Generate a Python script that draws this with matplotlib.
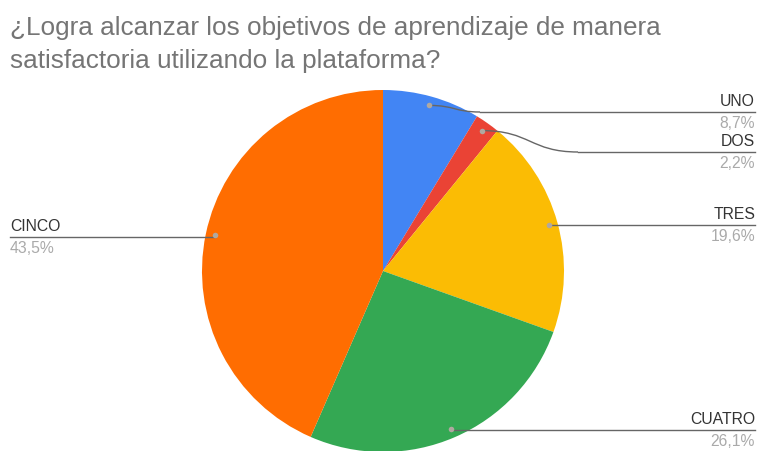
import matplotlib.pyplot as plt
from matplotlib.path import Path
from matplotlib.patches import PathPatch
import numpy as np

title_lines = ["¿Logra alcanzar los objetivos de aprendizaje de manera",
               "satisfactoria utilizando la plataforma?"]
labels = ["UNO", "DOS", "TRES", "CUATRO", "CINCO"]
shares = [8.7, 2.2, 19.6, 26.1, 43.5]
colors = ["#4285F4", "#EA4335", "#FBBC04", "#34A853", "#FF6D01"]

# label layout: y of the guide line, side, x where the leader meets the line
label_y = [112, 152, 225, 430, 237]
label_side = ["right", "right", "right", "right", "left"]
join_x = [480, 578, None, None, None]

W, H = 758, 451
cx, cy, r = 383, 271, 181

plt.rcParams['font.family'] = ['Liberation Sans', 'DejaVu Sans']
fig = plt.figure(figsize=(W / 100, H / 100), dpi=100)
ax = fig.add_axes([0, 0, 1, 1])

# y axis is inverted, so counterclock in data runs clockwise on screen
ax.pie(shares, colors=colors, startangle=-90, counterclock=True,
       center=(cx, cy), radius=r, wedgeprops=dict(linewidth=0),
       frame=True)
ax.set_xlim(0, W)
ax.set_ylim(H, 0)
ax.axis('off')

for i, ttl in enumerate(title_lines):
    ax.text(10, 35 + 33 * i, ttl, fontsize=18.8, color="#757575",
            va='baseline', ha='left')

cum = np.cumsum([0] + shares[:-1])
line_col = "#666666"
for lab, v, c0, ly, side, jx in zip(labels, shares, cum, label_y, label_side, join_x):
    th = np.deg2rad(-90 + 360 * (c0 + v / 2) / 100)
    dx, dy = cx + 0.95 * r * np.cos(th), cy + 0.95 * r * np.sin(th)
    ax.plot(dx, dy, 'o', ms=4, color="#b0a8a0", mec='none', zorder=4)
    if side == "right":
        if jx is not None:
            mx = (dx + jx) / 2
            path = Path([(dx, dy), (mx, dy), (mx, ly), (jx, ly)],
                        [Path.MOVETO, Path.CURVE4, Path.CURVE4, Path.CURVE4])
            ax.add_patch(PathPatch(path, fc='none', ec=line_col, lw=1, zorder=3))
            ax.plot([jx, 755], [ly, ly], color=line_col, lw=1, zorder=3)
        else:
            ax.plot([dx, 755], [ly, ly], color=line_col, lw=1, zorder=3)
        tx, ha = 755, 'right'
    else:
        ax.plot([10, dx], [ly, ly], color=line_col, lw=1, zorder=3)
        tx, ha = 10, 'left'
    ax.text(tx, ly - 6, lab, fontsize=11.3, color="#333333", ha=ha, va='baseline')
    ax.text(tx, ly + 16, f"{v:.1f}%".replace('.', ','), fontsize=11.3,
            color="#aaaaaa", ha=ha, va='baseline')

fig.savefig("out.png", dpi=100, facecolor='white')
